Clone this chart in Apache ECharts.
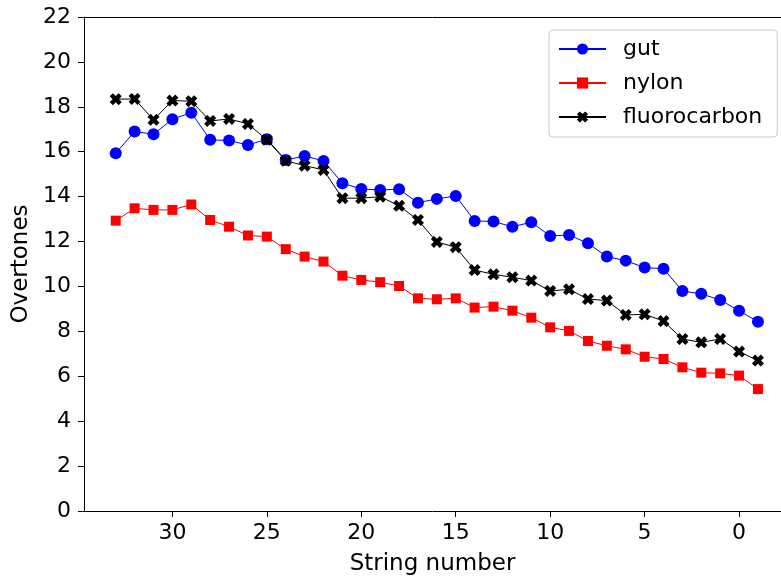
<!DOCTYPE html>
<html>
<head>
<meta charset="utf-8">
<script src="https://cdn.jsdelivr.net/npm/echarts@6/dist/echarts.min.js"></script>
<style>html,body{margin:0;padding:0;background:#fff}#c{width:781px;height:577px}</style>
</head>
<body>
<div id="c"></div>
<script>
const strings = [33,32,31,30,29,28,27,26,25,24,23,22,21,20,19,18,17,16,15,14,13,12,11,10,9,8,7,6,5,4,3,2,1,0,-1];
const gut = [15.93,16.9,16.78,17.45,17.74,16.53,16.5,16.3,16.56,15.63,15.81,15.59,14.6,14.34,14.3,14.33,13.73,13.9,14.03,12.92,12.89,12.66,12.86,12.25,12.29,11.92,11.33,11.15,10.84,10.79,9.8,9.67,9.4,8.92,8.43];
const nylon = [12.93,13.48,13.41,13.41,13.65,12.96,12.66,12.27,12.22,11.66,11.33,11.11,10.48,10.29,10.19,10.02,9.47,9.43,9.47,9.06,9.1,8.92,8.61,8.18,8.02,7.57,7.36,7.2,6.87,6.77,6.4,6.16,6.13,6.03,5.43];
const fluorocarbon = [18.34,18.35,17.42,18.28,18.25,17.37,17.46,17.24,16.53,15.6,15.38,15.19,13.93,13.93,14.0,13.59,12.96,11.98,11.75,10.73,10.54,10.41,10.26,9.8,9.87,9.44,9.37,8.73,8.76,8.46,7.66,7.51,7.66,7.1,6.7];
const xTicks = [0,5,10,15,20,25,30];
const seriesNames = ['gut','nylon','fluorocarbon'];

const FONT = 'DejaVu Sans';
const xPath = 'path://M0,2.6 L2.6,0 L5,2.4 L7.4,0 L10,2.6 L7.6,5 L10,7.4 L7.4,10 L5,7.6 L2.6,10 L0,7.4 L2.4,5 Z';
const pairs = arr => strings.map((s,i)=>[s,arr[i]]);
const X_MIN = -2.22, X_MAX = 34.68;

const chart = echarts.init(document.getElementById('c'), null, {renderer:'canvas'});
chart.setOption({
  animation:false,
  backgroundColor:'#fff',
  textStyle:{fontFamily:FONT},
  grid:{left:84,right:0,top:17,bottom:66,outerBoundsMode:'none',containLabel:false},
  legend:{
    left:549, top:30, orient:'vertical',
    padding:[8,15,9,9], itemGap:12, itemWidth:47, itemHeight:14,
    borderColor:'#cccccc', borderWidth:1, borderRadius:4, backgroundColor:'rgba(255,255,255,0.8)',
    textStyle:{fontFamily:FONT,fontSize:22,color:'#000',padding:[0,0,0,12]},
    data:seriesNames
  },
  xAxis:[{
    type:'value', min:X_MIN, max:X_MAX, inverse:true,
    name:'String number', nameLocation:'middle', nameGap:42,
    nameTextStyle:{fontFamily:FONT,fontSize:23,color:'#000'},
    splitLine:{show:false},
    axisLine:{onZero:false,lineStyle:{color:'#000',width:1}},
    axisTick:{show:true,length:6,lineStyle:{color:'#000'},customValues:xTicks},
    axisLabel:{fontFamily:FONT,fontSize:22,color:'#000',margin:11,customValues:xTicks}
  },{
    type:'value', min:X_MIN, max:X_MAX, inverse:true, position:'top',
    splitLine:{show:false},
    axisLine:{show:true,onZero:false,lineStyle:{color:'#000',width:1}},
    axisTick:{show:false}, axisLabel:{show:false}
  }],
  yAxis:{
    type:'value', min:0, max:22, interval:2,
    name:'Overtones', nameLocation:'middle', nameGap:51, nameRotate:90,
    nameTextStyle:{fontFamily:FONT,fontSize:23,color:'#000'},
    splitLine:{show:false},
    axisLine:{show:true,onZero:false,lineStyle:{color:'#000',width:1}},
    axisTick:{show:true,length:6,lineStyle:{color:'#000'}},
    axisLabel:{fontFamily:FONT,fontSize:22,color:'#000',margin:13}
  },
  series:[
    {name:'gut',type:'line',data:pairs(gut),symbol:'circle',symbolSize:12,
     lineStyle:{color:'#0000ff',width:1},itemStyle:{color:'#0000ff'}},
    {name:'nylon',type:'line',data:pairs(nylon),symbol:'rect',symbolSize:10,
     lineStyle:{color:'#ff0000',width:1},itemStyle:{color:'#ff0000'}},
    {name:'fluorocarbon',type:'line',data:pairs(fluorocarbon),symbol:xPath,symbolSize:12,
     lineStyle:{color:'#000000',width:1},itemStyle:{color:'#000000'}}
  ]
});
</script>
</body>
</html>
